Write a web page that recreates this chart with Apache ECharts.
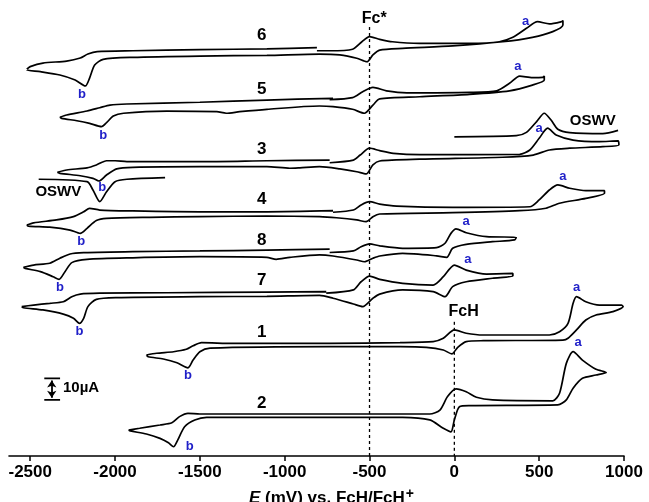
<!DOCTYPE html>
<html><head><meta charset="utf-8">
<script src="https://cdn.jsdelivr.net/npm/echarts@6/dist/echarts.min.js"></script>
<style>html,body{margin:0;padding:0;background:#fff}#c{width:649px;height:502px}</style>
</head><body><div id="c"></div>
<script>
// Potential E (mV vs FcH/FcH+), current offset (µA, stacked; 10 µA scale bar)
const xTicks = [-2500, -2000, -1500, -1000, -500, 0, 500, 1000];

const curve6 = [[-2520,175.8],[-2500,177.0],[-2425,178.6],[-2285,179.5],[-2205,180.9],[-2160,182.7],[-2105,183.8],[-1895,184.2],[-1500,184.7],[-1105,185.1],[-810,185.6],
  null,
  [-810,184.2],[-735,184.2],[-600,184.9],[-545,188.3],[-500,190.6],[-440,189.4],[-365,188.3],[-205,187.6],[90,187.6],[265,188.3],[345,190.3],[425,194.4],[490,197.4],[560,196.4],[630,197.4],[640,197.9],[640,195.9],[580,192.9],[460,190.3],[285,188.3],[-10,186.4],[-305,185.3],[-440,184.5],[-480,182.3],[-515,179.2],[-575,180.8],[-675,182.3],[-795,182.7],[-1105,182.1],[-1500,181.8],[-1895,181.2],[-2070,180.3],[-2120,177.7],[-2150,171.8],[-2175,168.2],[-2235,170.9],[-2325,173.2],[-2440,174.7],[-2520,175.5],[-2520,175.8]];

const curve5 = [[-2325,154.0],[-2285,155.0],[-2165,156.8],[-2090,158.3],[-2030,159.5],[-1930,160.0],[-1500,160.8],[-1105,161.8],[-715,162.6],
  null,
  [-735,162.0],[-600,162.9],[-540,165.6],[-480,167.6],[-400,166.0],[-280,165.1],[90,165.3],[250,166.0],[325,169.4],[385,172.7],[460,172.0],[520,172.1],[530,172.7],[530,170.9],[460,168.6],[325,166.0],[90,164.4],[-205,163.3],[-440,162.3],[-480,159.5],[-530,155.8],[-600,157.6],[-715,158.8],[-795,159.1],[-1105,157.6],[-1265,156.5],[-1345,155.8],[-1400,156.5],[-1695,156.8],[-1950,155.8],[-2010,154.5],[-2050,151.5],[-2080,149.7],[-2150,151.2],[-2225,152.4],[-2315,153.5],[-2325,154.0]];

const curve3 = [[-2340,129.0],[-2285,130.0],[-2165,131.0],[-2110,132.3],[-2050,134.2],[-2000,134.2],[-1930,133.8],[-1500,133.8],[-1105,134.2],[-735,134.5],
  null,
  [-735,133.3],[-595,134.5],[-555,136.8],[-500,139.9],[-440,138.8],[-360,137.6],[-205,137.0],[385,137.1],[445,139.1],[500,144.4],[550,149.0],[600,145.9],[700,143.6],[855,142.9],[965,143.2],[970,141.4],[875,140.6],[680,139.9],[560,139.1],[465,136.8],[285,135.8],[-205,134.9],[-440,134.1],[-480,132.3],[-520,128.2],[-575,129.2],[-675,130.5],[-795,131.5],[-910,131.0],[-970,130.8],[-1105,131.5],[-1500,131.5],[-1895,131.2],[-1990,130.5],[-2050,127.7],[-2095,125.0],[-2130,126.2],[-2205,127.4],[-2325,128.5],[-2340,129.0]];

const oswv3Ox = [[0,145.1],[365,145.6],[425,147.1],[485,152.0],[530,155.8],[570,152.7],[610,148.5],[680,147.0],[875,146.5],[965,148.0]];
const oswv3Red = [[-2450,125.8],[-2165,124.7],[-2130,120.9],[-2090,115.6],[-2050,120.1],[-2000,124.7],[-1930,125.8],[-1705,126.5]];

const curve4 = [[-2520,105.0],[-2480,106.0],[-2345,107.3],[-2245,108.8],[-2185,111.0],[-2150,112.6],[-2090,111.8],[-1895,111.4],[-1500,111.0],[-1105,111.0],[-715,111.5],
  null,
  [-715,110.8],[-595,111.8],[-550,114.1],[-500,115.6],[-440,114.5],[-340,113.6],[-10,113.0],[445,113.3],[500,116.4],[560,120.9],[610,123.2],[680,121.7],[775,120.6],[885,120.6],[885,119.4],[775,117.1],[620,114.9],[540,112.6],[385,111.5],[-10,110.6],[-440,110.0],[-480,108.8],[-520,106.5],[-575,107.3],[-695,108.3],[-795,108.8],[-1105,109.1],[-1500,108.8],[-1795,108.5],[-2050,108.0],[-2110,107.0],[-2165,103.5],[-2205,101.2],[-2265,102.7],[-2385,104.0],[-2510,104.5],[-2520,105.0]];

const curve8 = [[-2540,85.8],[-2480,86.8],[-2385,87.6],[-2325,89.9],[-2265,91.8],[-2185,92.4],[-1895,92.9],[-1500,93.2],[-1105,93.6],[-735,94.0],
  null,
  [-735,92.5],[-595,93.2],[-550,95.1],[-500,96.4],[-440,95.5],[-305,94.4],[-105,94.7],[-55,96.7],[-20,101.2],[10,103.2],[70,101.5],[190,99.7],[365,99.4],[355,98.2],[225,97.4],[70,96.2],[-10,94.4],[-45,90.3],[-105,91.0],[-305,92.1],[-440,90.9],[-480,89.9],[-530,88.3],[-575,89.1],[-715,90.9],[-795,91.4],[-970,90.3],[-1050,89.4],[-1105,90.3],[-1500,90.6],[-1895,90.1],[-2165,89.4],[-2255,87.9],[-2295,83.8],[-2330,80.3],[-2365,81.5],[-2440,83.8],[-2530,85.3],[-2540,85.8]];

const curve7 = [[-2550,67.9],[-2480,68.6],[-2385,69.4],[-2305,70.1],[-2255,72.4],[-2205,73.6],[-2090,74.0],[-1695,74.2],[-1105,74.5],[-755,74.7],
  null,
  [-755,74.0],[-595,75.5],[-550,79.2],[-500,81.8],[-440,80.3],[-305,78.5],[-125,77.7],[-65,81.5],[0,86.8],[70,84.5],[190,82.7],[345,83.0],[345,81.8],[225,80.8],[70,79.2],[-10,77.0],[-55,72.4],[-125,74.7],[-305,75.5],[-440,73.6],[-480,71.7],[-540,67.9],[-595,69.1],[-715,71.7],[-795,73.0],[-1105,72.6],[-1500,72.4],[-1990,72.0],[-2110,71.2],[-2160,67.9],[-2185,62.6],[-2210,60.3],[-2245,62.6],[-2305,64.5],[-2425,66.4],[-2540,67.4],[-2550,67.9]];

const curve1 = [[-1815,45.9],[-1755,46.7],[-1655,47.4],[-1580,48.5],[-1540,50.1],[-1490,51.5],[-1305,51.2],[-735,51.2],[-320,51.5],[-125,52.0],[-65,53.5],[0,57.3],[70,55.8],[170,55.0],[560,55.0],[620,56.5],[670,60.3],[700,69.4],[720,72.4],[775,70.1],[855,68.6],[985,68.6],[995,67.9],[935,65.6],[835,64.1],[775,61.8],[720,57.3],[670,53.5],[640,52.7],[170,52.4],[70,52.0],[20,49.4],[-15,46.4],[-65,48.2],[-165,49.4],[-320,49.7],[-735,49.7],[-1440,49.0],[-1500,47.4],[-1540,43.6],[-1570,40.1],[-1635,42.4],[-1715,44.1],[-1805,45.1],[-1815,45.9]];

const curve2 = [[-1920,11.8],[-1855,12.6],[-1735,14.1],[-1665,15.1],[-1620,17.9],[-1570,19.4],[-1500,19.1],[-735,19.1],[-145,19.1],[-85,20.9],[-40,27.0],[10,30.5],[70,29.2],[130,26.7],[225,25.5],[580,25.1],[620,28.5],[660,42.1],[700,47.4],[755,43.6],[835,39.4],[895,38.0],[835,36.8],[755,35.3],[700,30.8],[660,25.5],[610,23.2],[90,22.9],[30,22.4],[0,16.4],[-20,11.0],[-65,12.6],[-145,16.4],[-305,17.6],[-735,17.6],[-1460,17.6],[-1530,16.4],[-1590,13.3],[-1630,7.3],[-1655,4.2],[-1685,6.0],[-1735,8.0],[-1815,10.0],[-1910,11.4],[-1920,11.8]];

const refFcStar = [[-500,195],[-500,0]];
const refFcH = [[0,61],[0,0]];

const curveLabels = [[-1135,191.4,'6'],[-1135,166.8,'5'],[-1135,139.5,'3'],[-1135,116.8,'4'],[-1135,97.9,'8'],[-1135,79.7,'7'],[-1135,56.4,'1'],[-1135,24.1,'2']];
const peakLabels = [[420,197.7,'a'],[375,177.3,'a'],[500,149.1,'a'],[640,127.3,'a'],[70,106.4,'a'],[80,89.5,'a'],[720,76.4,'a'],[730,51.4,'a'],
  [-2195,164.5,'b'],[-2070,145.9,'b'],[-2075,122.3,'b'],[-2200,97.7,'b'],[-2325,76.4,'b'],[-2210,56.8,'b'],[-1570,36.8,'b'],[-1560,4.5,'b']];
const refLabels = [[-472,198.9,'Fc*'],[55,65.8,'FcH']];
const oswvLabels = [[816,152.3,'OSWV'],[-2334,120.0,'OSWV']];

const scaleBarCaps = [[-2417,35.3],[-2324,35.3],null,[-2417,25.5],[-2324,25.5]];
const scaleBarE = -2373, scaleBarLow = 25.5, scaleBarHigh = 35.3;
const scaleLabel = [[-2307,31.0,'10µA']];

const FONT = '"Liberation Sans", Arial, sans-serif';
const toData = a => a.map(p => p === null ? ['-', '-'] : p);

function curveSeries(d) {
  return { type: 'line', data: toData(d), showSymbol: false, symbol: 'none', silent: true, smooth: 0.25,
    lineStyle: { color: '#000', width: 1.7 }, z: 3 };
}
function labelSeries(d, style) {
  return { type: 'scatter', data: d, symbolSize: 1, itemStyle: { color: 'rgba(0,0,0,0)', opacity: 1 }, silent: true, z: 5,
    label: Object.assign({ show: true, position: 'inside', formatter: p => p.data[2], fontFamily: FONT, fontWeight: 'bold',
      textBorderWidth: 0, opacity: 1 }, style) };
}

const chart = echarts.init(document.getElementById('c'), null, { renderer: 'canvas' });
chart.setOption({
  animation: false,
  backgroundColor: '#fff',
  grid: { left: 9, right: 25, top: 16, bottom: 46, containLabel: false, outerBoundsMode: 'none' },
  xAxis: {
    type: 'value', min: -2625, max: 1000,
    splitLine: { show: false },
    axisLine: { show: true, onZero: false, lineStyle: { color: '#000', width: 1.6 } },
    axisTick: { show: true, inside: false, length: 5, lineStyle: { color: '#000', width: 1.5 }, customValues: xTicks },
    axisLabel: { show: true, color: '#000', fontFamily: FONT, fontWeight: 'bold', fontSize: 17, margin: 8,
      customValues: xTicks, formatter: v => String(v) },
    name: '{i|E}{n| (mV) vs. FcH/FcH}{s|+}',
    nameLocation: 'middle', nameGap: 31,
    nameTextStyle: {
      padding: [0, 0, 0, 30],
      rich: {
        i: { fontFamily: FONT, fontWeight: 'bold', fontStyle: 'italic', fontSize: 17, color: '#000' },
        n: { fontFamily: FONT, fontWeight: 'bold', fontSize: 17, color: '#000' },
        s: { fontFamily: FONT, fontWeight: 'bold', fontSize: 14, color: '#000', verticalAlign: 'top', padding: [0, 0, 8, 1] }
      }
    }
  },
  yAxis: { type: 'value', min: 0, max: 200, show: false },
  series: [
    curveSeries(curve6), curveSeries(curve5), curveSeries(curve3), curveSeries(oswv3Ox), curveSeries(oswv3Red),
    curveSeries(curve4), curveSeries(curve8), curveSeries(curve7), curveSeries(curve1), curveSeries(curve2),
    { type: 'line', data: refFcStar, showSymbol: false, symbol: 'none', silent: true, z: 2,
      lineStyle: { color: '#000', width: 1.3, type: [3, 3] } },
    { type: 'line', data: refFcH, showSymbol: false, symbol: 'none', silent: true, z: 2,
      lineStyle: { color: '#000', width: 1.3, type: [3, 3] } },
    { type: 'line', data: toData(scaleBarCaps), showSymbol: false, symbol: 'none', silent: true, z: 4,
      lineStyle: { color: '#000', width: 1.8 },
      markLine: { silent: true, symbol: ['arrow', 'arrow'], symbolSize: [7, 7], label: { show: false },
        lineStyle: { color: '#000', width: 1.8, type: 'solid' },
        data: [[{ coord: [scaleBarE, scaleBarLow + 1.0] }, { coord: [scaleBarE, scaleBarHigh - 1.0] }]] } },
    labelSeries(curveLabels, { color: '#000', fontSize: 17 }),
    labelSeries(peakLabels, { color: '#1f1fc8', fontSize: 13 }),
    labelSeries(refLabels, { color: '#000', fontSize: 16 }),
    labelSeries(oswvLabels, { color: '#000', fontSize: 15 }),
    labelSeries(scaleLabel, { color: '#000', fontSize: 15, align: 'left' })
  ]
});
</script></body></html>
